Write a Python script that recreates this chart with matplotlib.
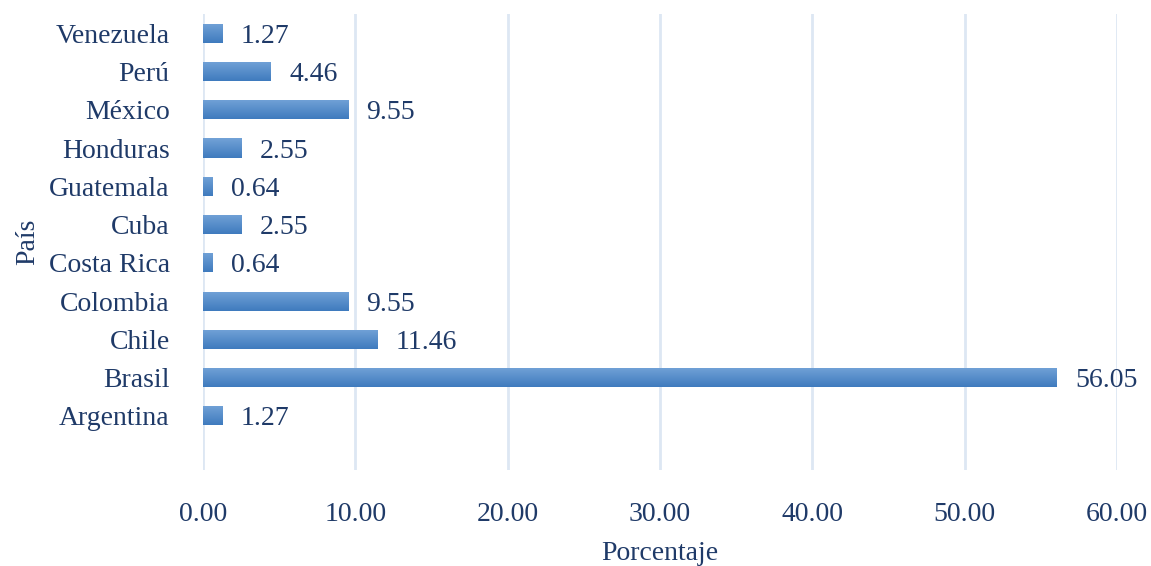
import matplotlib.pyplot as plt
import numpy as np
from matplotlib.colors import LinearSegmentedColormap

countries = ["Argentina", "Brasil", "Chile", "Colombia", "Costa Rica", "Cuba",
             "Guatemala", "Honduras", "México", "Perú", "Venezuela"]
percent = [1.27, 56.05, 11.46, 9.55, 0.64, 2.55, 0.64, 2.55, 9.55, 4.46, 1.27]
x_ticks = [0, 10, 20, 30, 40, 50, 60]

TEXT = "#1f3a68"
FS = 20
plt.rcParams["font.family"] = ["Liberation Serif", "DejaVu Serif"]

fig = plt.figure(figsize=(11.51, 5.66), dpi=100)
ax = fig.add_axes([0.1764, 0.170, 0.7941, 0.805])

y = np.arange(len(countries))
bars = ax.barh(y, percent, height=0.5, color="#4a86c6", zorder=3)

# vertical gradient, lighter on top like the original
grad = np.linspace(0, 1, 64).reshape(-1, 1)
cmap = LinearSegmentedColormap.from_list("barg", ["#3f7bbe", "#72a2d7"])
for b in bars:
    x0, y0, w, h = b.get_x(), b.get_y(), b.get_width(), b.get_height()
    im = ax.imshow(grad, extent=[x0, x0 + w, y0, y0 + h], cmap=cmap,
                   aspect="auto", zorder=4, origin="lower")
    im.set_clip_path(b)

for yi, v in zip(y, percent):
    ax.annotate(f"{v:.2f}", (v, yi), xytext=(13, 0), textcoords="offset points",
                ha="left", va="center_baseline", fontsize=FS, color=TEXT, zorder=5)

ax.set_xlim(0, 60)
ax.set_ylim(-1.41, 10.5)
ax.set_xticks(x_ticks)
ax.set_xticklabels([f"{t:.2f}" for t in x_ticks])
ax.set_yticks(y)
ax.set_yticklabels(countries)
ax.tick_params(axis="both", length=0, labelsize=FS, colors=TEXT)
ax.tick_params(axis="x", pad=23)
ax.tick_params(axis="y", pad=24)
for lbl in ax.get_yticklabels():
    lbl.set_verticalalignment("center_baseline")
ax.grid(axis="x", color="#dde7f3", linewidth=2, zorder=0)
ax.set_axisbelow(True)
for s in ax.spines.values():
    s.set_visible(False)

ax.set_xlabel("Porcentaje", fontsize=FS, color=TEXT, labelpad=10)
ax.set_ylabel("País", fontsize=FS, color=TEXT, labelpad=6)

fig.savefig("out.png", dpi=100)
